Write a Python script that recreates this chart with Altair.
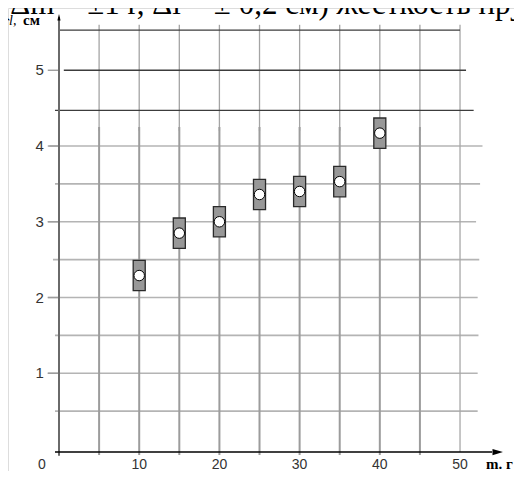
import altair as alt
import pandas as pd

# ---- data ----
mass = [10, 15, 20, 25, 30, 35, 40]              # m, г
length = [2.29, 2.85, 3.00, 3.36, 3.40, 3.53, 4.17]  # l, см
dm_drawn = 0.75   # half-width of error box (г)
dl = 0.2          # half-height of error box (см)

x_ticks = [10, 20, 30, 40, 50]
y_ticks = [1, 2, 3, 4, 5]
v_grid = [5, 10, 15, 20, 25, 30, 35, 40, 45]
h_grid = [0.5, 1.0, 1.5, 2.0, 2.5, 3.0, 3.5, 4.0]
h_grid_start = [-0.5, -1.4, -0.5, -1.4, -0.75, -1.4, -0.5, -1.2]
h_grid_end = [52.2, 52.2, 52.3, 52.2, 52.4, 52.0, 52.5, 52.8]
dark_lines = [5.53, 5.0, 4.47]
dark_start = [0.0, 0.6, -0.5]
dark_end = [50.0, 50.75, 51.7]

title_text = "(Δm = ±1 г, Δl = ± 0,2 см) жесткость пружины"

W, H = 506, 463
xs = alt.Scale(domain=[-6.359, 56.73], nice=False, zero=False)
ys = alt.Scale(domain=[-0.290, 5.822], nice=False, zero=False)

pts = pd.DataFrame({"m": mass, "l": length})
pts["m1"] = pts["m"] - dm_drawn
pts["m2"] = pts["m"] + dm_drawn
pts["l1"] = pts["l"] - dl
pts["l2"] = pts["l"] + dl

hg = pd.DataFrame({"y": h_grid, "x1": h_grid_start, "x2": h_grid_end})
vg = pd.DataFrame({"x": v_grid})
dk = pd.DataFrame({"y": dark_lines, "x1": dark_start, "x2": dark_end})

X = lambda f: alt.X(f, type="quantitative", scale=xs, axis=None)
Y = lambda f: alt.Y(f, type="quantitative", scale=ys, axis=None)

# horizontal gray grid
hgrid = alt.Chart(hg).mark_rule(color="#b4b4b4", strokeWidth=1.6).encode(
    x=X("x1"), x2="x2", y=Y("y"))

# vertical grid: thin upper part and thicker lower part
vthin = alt.Chart(vg).mark_rule(color="#a4a4a4", strokeWidth=1.3).encode(
    x=X("x"), y=alt.Y("t:Q", scale=ys, axis=None), y2="b:Q"
).transform_calculate(t="5.6", b="4.2")
vthick = alt.Chart(vg).mark_rule(color="#9c9c9c", strokeWidth=2).encode(
    x=X("x"), y=alt.Y("t:Q", scale=ys, axis=None), y2="b:Q"
).transform_calculate(t="4.25", b="-0.08")
v50 = alt.Chart(pd.DataFrame({"x": [50]})).mark_rule(color="#a8a8a8", strokeWidth=1.3).encode(
    x=X("x"), y=alt.Y("t:Q", scale=ys, axis=None), y2="b:Q"
).transform_calculate(t="5.6", b="-0.04")

# dark top lines
dark = alt.Chart(dk).mark_rule(color="#3c3c3c", strokeWidth=1.4).encode(
    x=X("x1"), x2="x2", y=Y("y"))

# axes
yaxis = alt.Chart(pd.DataFrame({"x": [0]})).mark_rule(color="#6a6a6a", strokeWidth=2).encode(
    x=X("x"), y=alt.Y("t:Q", scale=ys, axis=None), y2="b:Q"
).transform_calculate(t="5.7", b="-0.09")
xaxis = alt.Chart(pd.DataFrame({"y": [-0.04]})).mark_rule(color="#000000", strokeWidth=1.4).encode(
    y=Y("y"), x=alt.X("a:Q", scale=xs, axis=None), x2="b:Q"
).transform_calculate(a="-0.5", b="54")
yarrow = alt.Chart(pd.DataFrame({"x": [0], "y": [5.70]})).mark_point(
    shape="M-0.5,1L0,-1L0.5,1Z", filled=True, color="#000000", opacity=1, size=40
).encode(x=X("x"), y=Y("y"))
xarrow = alt.Chart(pd.DataFrame({"x": [54.7], "y": [-0.04]})).mark_point(
    shape="M-1,-0.6L1,0L-1,0.6Z", filled=True, color="#000000", opacity=1, size=110
).encode(x=X("x"), y=Y("y"))

# y tick marks
yt = pd.DataFrame({"y": y_ticks})
yticks = alt.Chart(yt).mark_rule(color="#9c9c9c", strokeWidth=1.4).encode(
    y=Y("y"), x=alt.X("a:Q", scale=xs, axis=None), x2="b:Q"
).transform_calculate(a="-1.4", b="0")

# tick labels
ylab = alt.Chart(yt).mark_text(font="Liberation Sans", fontSize=15, color="#333333",
                               align="center", baseline="middle").encode(
    y=Y("y"), x=alt.X("p:Q", scale=xs, axis=None), text=alt.Text("y:Q", format="d")
).transform_calculate(p="-2.4")
xt = pd.DataFrame({"x": x_ticks})
xlab = alt.Chart(xt).mark_text(font="Liberation Sans", fontSize=14, color="#333333",
                               align="center", baseline="middle").encode(
    x=X("x"), y=alt.Y("p:Q", scale=ys, axis=None), text=alt.Text("x:Q", format="d")
).transform_calculate(p="-0.21")
xlab0 = alt.Chart(pd.DataFrame({"x": [0]})).mark_text(
    font="Liberation Sans", fontSize=14, color="#333333", align="center",
    baseline="middle", dx=-17).encode(
    x=X("x"), y=alt.Y("p:Q", scale=ys, axis=None), text=alt.Text("x:Q", format="d")
).transform_calculate(p="-0.21")

# error boxes and points
boxes = alt.Chart(pts).mark_rect(fill="#989898", stroke="#2a2a2a", strokeWidth=1.3).encode(
    x=X("m1"), x2="m2", y=Y("l1"), y2="l2")
dots = alt.Chart(pts).mark_point(shape="circle", filled=True, fill="white", stroke="#000000",
                                 strokeWidth=1, opacity=1, size=110).encode(
    x=X("m"), y=Y("l"))

# texts
title = alt.Chart(pd.DataFrame({"t": [title_text]})).mark_text(
    font="Liberation Serif", fontSize=31, align="left", baseline="alphabetic", color="#000000"
).encode(x=alt.value(-8), y=alt.value(6), text="t:N")
lab_l = alt.Chart(pd.DataFrame({"t": ["l,"]})).mark_text(
    font="Liberation Serif", fontSize=14, fontStyle="italic", align="left",
    baseline="alphabetic", color="#000000"
).encode(x=alt.value(1), y=alt.value(17), text="t:N")
lab_cm = alt.Chart(pd.DataFrame({"t": ["см"]})).mark_text(
    font="Liberation Serif", fontSize=15, fontWeight="bold", align="left",
    baseline="alphabetic", color="#000000"
).encode(x=alt.value(15), y=alt.value(17), text="t:N")
lab_m = alt.Chart(pd.DataFrame({"t": ["m. г"]})).mark_text(
    font="Liberation Serif", fontSize=15, fontWeight="bold", align="left",
    baseline="alphabetic", color="#000000"
).encode(x=alt.value(478), y=alt.value(461), text="t:N")

chart = alt.layer(
    hgrid, vthin, vthick, v50, dark, yticks, yaxis, xaxis, yarrow, xarrow,
    ylab, xlab, xlab0, boxes, dots, title, lab_l, lab_cm, lab_m
).properties(
    width=W, height=H, padding=0, autosize=alt.AutoSizeParams(type="none")
).configure_view(stroke=None).configure(background="white")

chart.save("out.html", embed_options={"renderer": "svg", "actions": False})
